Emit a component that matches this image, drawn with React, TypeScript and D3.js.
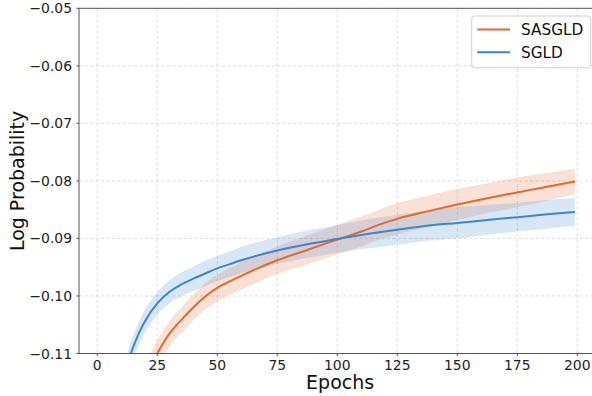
import React from 'react';
import * as d3 from 'd3';

const epochsSASGLD = [20, 25, 30, 35, 40, 45, 50, 55, 60, 75, 87.5, 100, 110, 117.5, 125, 137.5, 150, 162.5, 175, 187.5, 199];
const meanSASGLD = [-0.114, -0.11, -0.1066, -0.1042, -0.102, -0.1001, -0.0986, -0.0975, -0.0965, -0.0938, -0.092, -0.0902, -0.0888, -0.0876, -0.0866, -0.0853, -0.0841, -0.083, -0.082, -0.081, -0.0801];
const stdSASGLD = [0.0022, 0.0022, 0.0022, 0.0022, 0.0022, 0.0023, 0.0023, 0.0023, 0.0024, 0.0024, 0.0025, 0.0026, 0.0026, 0.0026, 0.0027, 0.0027, 0.0027, 0.0026, 0.0026, 0.0024, 0.0022];

const epochsSGLD = [10, 14, 17, 20, 25, 30, 35, 40, 45, 50, 55, 60, 75, 87.5, 100, 110, 125, 137.5, 150, 162.5, 175, 187.5, 199];
const meanSGLD = [-0.1155, -0.11, -0.1068, -0.1043, -0.1013, -0.0993, -0.098, -0.097, -0.0961, -0.0952, -0.0945, -0.0938, -0.0921, -0.091, -0.0901, -0.0894, -0.0885, -0.0878, -0.0873, -0.0868, -0.0863, -0.0858, -0.0854];
const stdSGLD = [0.002, 0.002, 0.002, 0.002, 0.002, 0.002, 0.0021, 0.0021, 0.0022, 0.0022, 0.0022, 0.0023, 0.0023, 0.0024, 0.0024, 0.0025, 0.0026, 0.0026, 0.0027, 0.0026, 0.0025, 0.0025, 0.0024];

const xTicks = [0, 25, 50, 75, 100, 125, 150, 175, 200];
const yTicks = [-0.11, -0.1, -0.09, -0.08, -0.07, -0.06, -0.05];
const seriesNames = ['SASGLD', 'SGLD'];
const seriesColors = ['#E4692B', '#3A86D2'];

const W = 592;
const H = 396;
const left = 79;
const top = 8.3;
const bottom = 353.5;
const right = 601.3;

export default function App() {
  const x = d3.scaleLinear().domain([-7.6, 210]).range([left, right]);
  const y = d3.scaleLinear().domain([-0.11, -0.05]).range([bottom, top]);
  const fmt = d3.format('.2f');

  const series = [
    { name: seriesNames[0], color: seriesColors[0], data: epochsSASGLD.map((e, i) => ({ e, m: meanSASGLD[i], s: stdSASGLD[i] })) },
    { name: seriesNames[1], color: seriesColors[1], data: epochsSGLD.map((e, i) => ({ e, m: meanSGLD[i], s: stdSGLD[i] })) },
  ];

  const line = d3.line<any>().x(d => x(d.e)).y(d => y(d.m)).curve(d3.curveMonotoneX);
  const area = d3.area<any>().x(d => x(d.e)).y0(d => y(d.m - d.s)).y1(d => y(d.m + d.s)).curve(d3.curveMonotoneX);

  const font = '"DejaVu Sans", sans-serif';

  return (
    <svg width={W} height={H} style={{ position: 'absolute', left: 0, top: 0, background: '#fff' }} fontFamily={font}>
      <defs>
        <clipPath id="plotclip">
          <rect x={left} y={top} width={right - left} height={bottom - top} />
        </clipPath>
      </defs>
      <rect x={0} y={0} width={W} height={H} fill="#fff" />
      {xTicks.map(t => (
        <line key={'gx' + t} x1={x(t)} x2={x(t)} y1={top} y2={bottom} stroke="#d3d3d3" strokeWidth={0.8} strokeDasharray="3,2.5" />
      ))}
      {yTicks.map(t => (
        <line key={'gy' + t} x1={left} x2={right} y1={y(t)} y2={y(t)} stroke="#d3d3d3" strokeWidth={0.8} strokeDasharray="3,2.5" />
      ))}
      <g clipPath="url(#plotclip)">
        {series.map(s => (
          <path key={'a' + s.name} d={area(s.data) || ''} fill={s.color} fillOpacity={0.2} stroke="none" />
        ))}
        {series.map(s => (
          <path key={'l' + s.name} d={line(s.data) || ''} fill="none" stroke={s.color} strokeWidth={2} />
        ))}
      </g>
      <line x1={left} x2={left} y1={top} y2={bottom} stroke="#555" strokeWidth={1} />
      <line x1={left} x2={right} y1={bottom} y2={bottom} stroke="#555" strokeWidth={1} />
      <line x1={left} x2={right} y1={top} y2={top} stroke="#555" strokeWidth={1} />
      {xTicks.map(t => (
        <g key={'tx' + t}>
          <line x1={x(t)} x2={x(t)} y1={bottom} y2={bottom + 2.5} stroke="#555" strokeWidth={1} />
          <text x={x(t)} y={369.5} textAnchor="middle" fontSize={13.9} fill="#222">{t}</text>
        </g>
      ))}
      {yTicks.map(t => (
        <g key={'ty' + t}>
          <line x1={left - 2.5} x2={left} y1={y(t)} y2={y(t)} stroke="#555" strokeWidth={1} />
          <text x={72} y={y(t)} dy="0.36em" textAnchor="end" fontSize={13.9} fill="#222">{fmt(t)}</text>
        </g>
      ))}
      <text x={(left + right) / 2} y={389} textAnchor="middle" fontSize={19} fill="#111">Epochs</text>
      <text transform={`translate(24,${(top + bottom) / 2}) rotate(-90)`} textAnchor="middle" fontSize={19} fill="#111">Log Probability</text>
      <rect x={471.7} y={16} width={119} height={51.7} rx={3} fill="#fff" fillOpacity={0.8} stroke="#d0d0d0" strokeWidth={1} />
      {series.map((s, i) => (
        <g key={'lg' + s.name}>
          <line x1={477.3} x2={510} y1={29.5 + i * 22.8} y2={29.5 + i * 22.8} stroke={s.color} strokeWidth={2} />
          <text x={521} y={35 + i * 22.8} fontSize={15.3} fill="#111">{s.name}</text>
        </g>
      ))}
    </svg>
  );
}
